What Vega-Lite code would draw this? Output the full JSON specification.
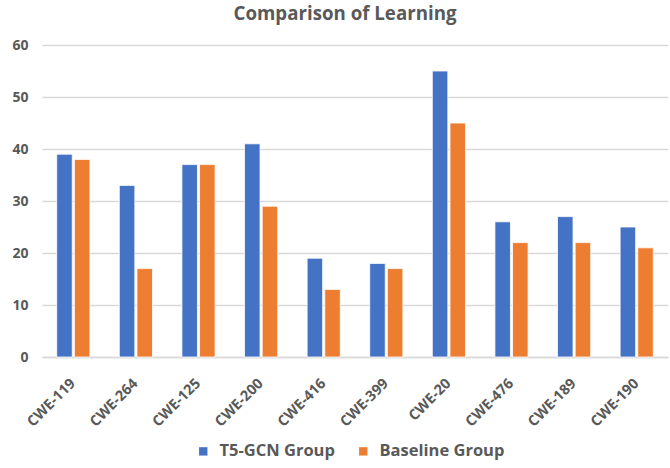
{
  "$schema": "https://vega.github.io/schema/vega-lite/v6.json",
  "autosize": "none",
  "width": 626,
  "height": 312,
  "padding": {"left": 42, "top": 45, "right": 2, "bottom": 111},
  "background": "white",
  "title": {
    "text": "Comparison of Learning",
    "font": "Open Sans",
    "fontSize": 18.7,
    "fontWeight": "bold",
    "color": "#595959",
    "anchor": "middle",
    "dx": -10,
    "offset": 14
  },
  "data": {
    "values": [
      {"cwe": "CWE-119", "group": "T5-GCN Group", "value": 39},
      {"cwe": "CWE-119", "group": "Baseline Group", "value": 38},
      {"cwe": "CWE-264", "group": "T5-GCN Group", "value": 33},
      {"cwe": "CWE-264", "group": "Baseline Group", "value": 17},
      {"cwe": "CWE-125", "group": "T5-GCN Group", "value": 37},
      {"cwe": "CWE-125", "group": "Baseline Group", "value": 37},
      {"cwe": "CWE-200", "group": "T5-GCN Group", "value": 41},
      {"cwe": "CWE-200", "group": "Baseline Group", "value": 29},
      {"cwe": "CWE-416", "group": "T5-GCN Group", "value": 19},
      {"cwe": "CWE-416", "group": "Baseline Group", "value": 13},
      {"cwe": "CWE-399", "group": "T5-GCN Group", "value": 18},
      {"cwe": "CWE-399", "group": "Baseline Group", "value": 17},
      {"cwe": "CWE-20", "group": "T5-GCN Group", "value": 55},
      {"cwe": "CWE-20", "group": "Baseline Group", "value": 45},
      {"cwe": "CWE-476", "group": "T5-GCN Group", "value": 26},
      {"cwe": "CWE-476", "group": "Baseline Group", "value": 22},
      {"cwe": "CWE-189", "group": "T5-GCN Group", "value": 27},
      {"cwe": "CWE-189", "group": "Baseline Group", "value": 22},
      {"cwe": "CWE-190", "group": "T5-GCN Group", "value": 25},
      {"cwe": "CWE-190", "group": "Baseline Group", "value": 21}
    ]
  },
  "mark": {"type": "bar", "stroke": "white", "strokeWidth": 0.8},
  "encoding": {
    "x": {
      "field": "cwe",
      "type": "nominal",
      "sort": null,
      "title": null,
      "scale": {"paddingInner": 0.47, "paddingOuter": 0.235},
      "axis": {
        "labelAngle": -45,
        "labelAlign": "right",
        "labelBaseline": "middle",
        "labelFont": "Open Sans",
        "labelFontSize": 14.5,
        "labelFontWeight": "bold",
        "labelColor": "#595959",
        "labelPadding": 24,
        "ticks": false,
        "domainColor": "#D9D9D9",
        "domainWidth": 1.5,
        "grid": false
      }
    },
    "xOffset": {
      "field": "group",
      "type": "nominal",
      "sort": ["T5-GCN Group", "Baseline Group"],
      "scale": {"paddingInner": 0.12}
    },
    "y": {
      "field": "value",
      "type": "quantitative",
      "title": null,
      "scale": {"domain": [0, 60], "nice": false},
      "axis": {
        "values": [0, 10, 20, 30, 40, 50, 60],
        "labelFont": "Open Sans",
        "labelFontSize": 14,
        "labelFontWeight": "bold",
        "labelColor": "#595959",
        "labelPadding": 14,
        "ticks": false,
        "domain": false,
        "grid": true,
        "gridColor": "#D9D9D9",
        "gridWidth": 1.5
      }
    },
    "color": {
      "field": "group",
      "type": "nominal",
      "sort": ["T5-GCN Group", "Baseline Group"],
      "scale": {"domain": ["T5-GCN Group", "Baseline Group"], "range": ["#4472C4", "#ED7D31"]},
      "legend": {
        "title": null,
        "orient": "none",
        "direction": "horizontal",
        "legendX": 153,
        "legendY": 398,
        "symbolType": "square",
        "symbolSize": 70,
        "symbolStrokeWidth": 0,
        "labelFont": "Open Sans",
        "labelFontSize": 16.5,
        "labelFontWeight": "bold",
        "labelColor": "#595959",
        "columnPadding": 20,
        "labelOffset": 8
      }
    }
  },
  "config": {"view": {"stroke": null}}
}
